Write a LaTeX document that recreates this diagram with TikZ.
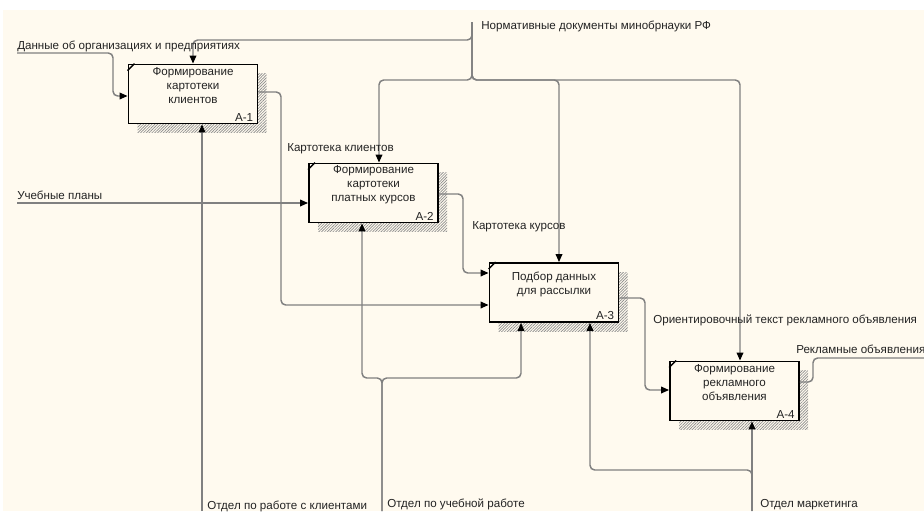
\documentclass[tikz,border=0pt]{standalone}
\usepackage{fontspec}
\setmainfont{Liberation Sans}
\usetikzlibrary{arrows.meta,shadows,patterns.meta,calc}
\definecolor{paper}{RGB}{255,250,239}
\definecolor{wire}{RGB}{128,128,128}
\definecolor{ink}{RGB}{35,35,35}

\begin{document}
\begin{tikzpicture}[x=0.75pt,y=-0.75pt,
  font=\fontsize{8.7}{10.5}\selectfont,
  wire/.style={draw=wire, line width=1.1pt, rounded corners=3.5pt},
  link/.style={wire, -{Triangle[length=6pt,width=5pt,color=black]}},
  fn/.style={draw=black, line width=1.4pt, fill=paper,
    minimum width=96.75pt, minimum height=44.25pt, inner sep=0pt,
    drop shadow={shadow xshift=6.75pt, shadow yshift=-6.75pt, opacity=1,
      fill=black!12, pattern={Lines[angle=45,distance=1.5pt,line width=0.5pt]},
      pattern color=black!45}},
  title/.style={align=center, text=ink, inner sep=0pt},
  num/.style={anchor=south east, text=ink, inner sep=0pt},
  lbl/.style={anchor=west, text=ink, inner sep=0pt, text height=1.5ex, text depth=.25ex},
  tag/.style={draw=black, line width=1pt}
]
% sheet
\fill[white] (0,0) rectangle (924,511);
\fill[paper] (3,10) rectangle (924,511);
\useasboundingbox (0,0) rectangle (924,511);

% activity boxes
\node[fn] (A1) at (193,94) {};
\node[fn] (A2) at (373.5,193) {};
\node[fn] (A3) at (554,292.5) {};
\node[fn] (A4) at (734.5,391) {};

\foreach \b in {A1,A2,A3,A4}
  \draw[tag] ($(\b.north west)+(0,7)$) -- ($(\b.north west)+(7,0)$);

\node[title] (t1) at ($(A1.center)+(0,-8)$) {Формирование\\картотеки\\клиентов};
\node[title] (t2) at ($(A2.center)+(0,-8)$) {Формирование\\картотеки\\платных курсов};
\node[title] (t3) at ($(A3.center)+(0,-8)$) {Подбор данных\\для рассылки};
\node[title] (t4) at ($(A4.center)+(0,-8)$) {Формирование\\рекламного\\объявления};

\node[num] (n1) at ($(A1.south east)+(-5,-3)$) {A-1};
\node[num] (n2) at ($(A2.south east)+(-5,-3)$) {A-2};
\node[num] (n3) at ($(A3.south east)+(-5,-3)$) {A-3};
\node[num] (n4) at ($(A4.south east)+(-5,-3)$) {A-4};

% free ends and bend points
\coordinate (srcOrg) at (17,53);
\coordinate (srcPlans) at (17,203);
\coordinate (srcNorm) at (472,22);
\coordinate (sinkAds) at (924,358);
\coordinate (mechClients) at (202,511);
\coordinate (mechStudy) at (382,511);
\coordinate (mechMkt) at (752,511);

\coordinate (k1) at (113,96);
\coordinate (kA1) at (193,40);
\coordinate (kA2) at (379,80);
\coordinate (kA3) at (559,80);
\coordinate (kA4) at (740,80);
\coordinate (o1a) at (281,92);
\coordinate (o1b) at (281,305);
\coordinate (o2a) at (463,194);
\coordinate (o2b) at (463,273);
\coordinate (o3a) at (645,298);
\coordinate (o3b) at (645,390);
\coordinate (o4a) at (813,382);
\coordinate (o4b) at (813,358);
\coordinate (jm) at (382,378);
\coordinate (m2l) at (362,378);
\coordinate (m2r) at (521,378);
\coordinate (jk) at (752,470);
\coordinate (m3l) at (590,470);

% inputs
\draw[link] (srcOrg) -- (113,53) -- (k1) -- (k1 -| A1.west);
\draw[link] (srcPlans) -- (srcPlans -| A2.west);

% controls
\draw[link] (srcNorm) -- (472,40) -- (kA1) -- (A1.north);
\draw[link] (srcNorm) -- (472,80) -- (kA2) -- (kA2 |- A2.north);
\draw[link] (srcNorm) -- (472,80) -- (kA3) -- (kA3 |- A3.north);
\draw[link] (srcNorm) -- (472,80) -- (kA4) -- (kA4 |- A4.north);

% outputs
\draw[link] (o1a -| A1.east) -- (o1a) -- (o1b) -- (o1b -| A3.west);
\draw[link] (o2a -| A2.east) -- (o2a) -- (o2b) -- (o2b -| A3.west);
\draw[link] (o3a -| A3.east) -- (o3a) -- (o3b) -- (o3b -| A4.west);
\draw[wire] (o4a -| A4.east) -- (o4a) -- (o4b) -- (sinkAds);

% mechanisms
\draw[link] (mechClients) -- (mechClients |- A1.south);
\draw[link] (mechStudy) -- (jm) -- (m2l) -- (m2l |- A2.south);
\draw[link] (mechStudy) -- (jm) -- (m2r) -- (m2r |- A3.south);
\draw[link] (mechMkt) -- (mechMkt |- A4.south);
\draw[link] (mechMkt) -- (jk) -- (m3l) -- (m3l |- A3.south);

% arrow labels
\node[lbl] (lOrg) at (17,45) {Данные об организациях и предприятиях};
\node[lbl] (lNorm) at (481,25) {Нормативные документы минобрнауки РФ};
\node[lbl] (lClients) at (287,147) {Картотека клиентов};
\node[lbl] (lPlans) at (17,195) {Учебные планы};
\node[lbl] (lCourses) at (472,225) {Картотека курсов};
\node[lbl] (lDraft) at (653,319) {Ориентировочный текст рекламного объявления};
\node[lbl] (lAds) at (796,349) {Рекламные объявления};
\node[lbl] (lMechC) at (207,505) {Отдел по работе с клиентами};
\node[lbl] (lMechS) at (387,503) {Отдел по учебной работе};
\node[lbl] (lMechM) at (760,503) {Отдел маркетинга};
\end{tikzpicture}
\end{document}
